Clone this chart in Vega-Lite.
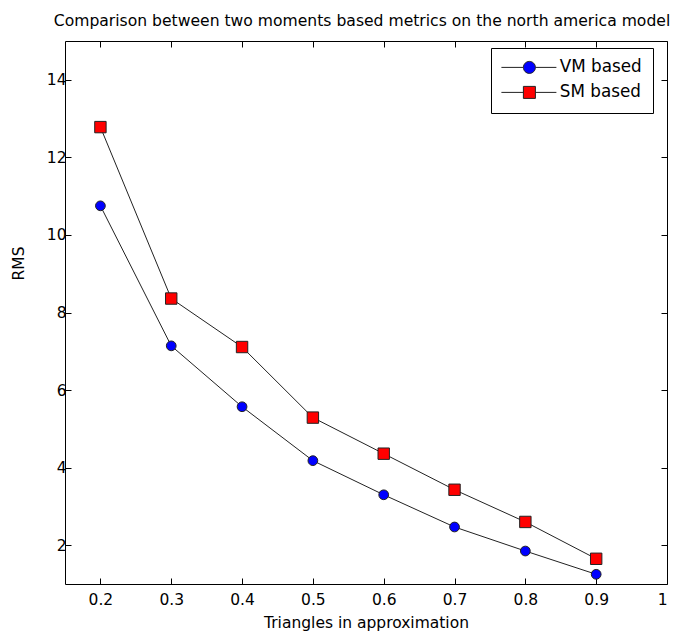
{
  "$schema": "https://vega.github.io/schema/vega-lite/v6.json",
  "width": 602,
  "height": 543,
  "autosize": "none",
  "padding": {"left": 65, "top": 41, "right": 11, "bottom": 53},
  "background": "white",
  "title": {
    "text": "Comparison between two moments based metrics on the north america model",
    "font": "DejaVu Sans",
    "fontSize": 15.6,
    "fontWeight": "normal",
    "color": "black",
    "anchor": "middle",
    "dx": -4,
    "offset": 11
  },
  "config": {
    "view": {"stroke": "black", "strokeWidth": 1},
    "axis": {
      "grid": false,
      "domain": false,
      "tickColor": "black",
      "tickSize": -6,
      "labelColor": "black",
      "labelFont": "DejaVu Sans",
      "labelFontSize": 15.5,
      "titleFont": "DejaVu Sans",
      "titleFontSize": 15.5,
      "titleFontWeight": "normal",
      "titleColor": "black"
    }
  },
  "data": {
    "values": [
      {"x": 0.2, "series": "VM based", "rms": 10.75},
      {"x": 0.3, "series": "VM based", "rms": 7.14},
      {"x": 0.4, "series": "VM based", "rms": 5.57},
      {"x": 0.5, "series": "VM based", "rms": 4.18},
      {"x": 0.6, "series": "VM based", "rms": 3.30},
      {"x": 0.7, "series": "VM based", "rms": 2.47},
      {"x": 0.8, "series": "VM based", "rms": 1.85},
      {"x": 0.9, "series": "VM based", "rms": 1.25},
      {"x": 0.2, "series": "SM based", "rms": 12.78},
      {"x": 0.3, "series": "SM based", "rms": 8.36},
      {"x": 0.4, "series": "SM based", "rms": 7.11},
      {"x": 0.5, "series": "SM based", "rms": 5.29},
      {"x": 0.6, "series": "SM based", "rms": 4.36},
      {"x": 0.7, "series": "SM based", "rms": 3.43},
      {"x": 0.8, "series": "SM based", "rms": 2.60},
      {"x": 0.9, "series": "SM based", "rms": 1.65}
    ]
  },
  "layer": [
    {
      "mark": {"type": "line", "color": "#222222", "strokeWidth": 1},
      "encoding": {
        "x": {
          "field": "x", "type": "quantitative",
          "scale": {"domain": [0.15, 1], "nice": false, "zero": false},
          "axis": {
            "orient": "bottom",
            "values": [0.2, 0.3, 0.4, 0.5, 0.6, 0.7, 0.8, 0.9, 1],
            "format": "~g",
            "labelPadding": 14,
            "title": "Triangles in approximation",
            "titleY": 38,
            "titleBaseline": "middle"
          }
        },
        "y": {
          "field": "rms", "type": "quantitative",
          "scale": {"domain": [1, 15], "nice": false, "zero": false},
          "axis": {
            "orient": "left",
            "values": [2, 4, 6, 8, 10, 12, 14],
            "labelPadding": 5,
            "title": "RMS",
            "titleX": -47,
            "titleY": 222,
            "titleAngle": -90,
            "titleAlign": "center",
            "titleBaseline": "middle"
          }
        },
        "detail": {"field": "series"}
      }
    },
    {
      "transform": [{"filter": "datum.series == 'VM based'"}],
      "mark": {"type": "point", "shape": "circle", "size": 95, "filled": true, "opacity": 1, "stroke": "#222222", "strokeWidth": 1},
      "encoding": {
        "x": {
          "field": "x", "type": "quantitative",
          "axis": {"orient": "top", "values": [0.2, 0.3, 0.4, 0.5, 0.6, 0.7, 0.8, 0.9, 1], "labels": false, "title": null}
        },
        "y": {
          "field": "rms", "type": "quantitative",
          "axis": {"orient": "right", "values": [2, 4, 6, 8, 10, 12, 14], "labels": false, "title": null}
        },
        "color": {
          "field": "series", "type": "nominal",
          "scale": {"domain": ["VM based", "SM based"], "range": ["#0000ff", "#ff0000"]},
          "legend": {
            "orient": "none",
            "legendX": 426,
            "legendY": 7,
            "title": null,
            "values": ["VM based", "SM based"],
            "strokeColor": "black",
            "fillColor": "white",
            "padding": 11,
            "labelFont": "DejaVu Sans",
            "labelFontSize": 16.8,
            "labelColor": "black",
            "labelOffset": 41,
            "rowPadding": 7,
            "symbolSize": 100,
            "symbolStrokeColor": "#222222",
            "symbolStrokeWidth": 1,
            "symbolOpacity": 1,
            "encode": {
              "symbols": {
                "update": {
                  "shape": {"signal": "datum.value == 'VM based' ? 'M-1.8,0H2.6M5,0H9.2M2.6,0A1.2,1.2,0,1,1,5,0A1.2,1.2,0,1,1,2.6,0Z' : 'M-1.8,0H2.6M5,0H9.2M2.6,-1.2H5V1.2H2.6Z'"},
                  "size": {"value": 100}
                }
              }
            }
          }
        }
      }
    },
    {
      "transform": [{"filter": "datum.series == 'SM based'"}],
      "mark": {"type": "point", "shape": "square", "size": 130, "filled": true, "opacity": 1, "stroke": "#222222", "strokeWidth": 1},
      "encoding": {
        "x": {"field": "x", "type": "quantitative", "axis": null},
        "y": {"field": "rms", "type": "quantitative", "axis": null},
        "color": {"field": "series", "type": "nominal"}
      }
    }
  ],
  "resolve": {"axis": {"x": "independent", "y": "independent"}}
}
